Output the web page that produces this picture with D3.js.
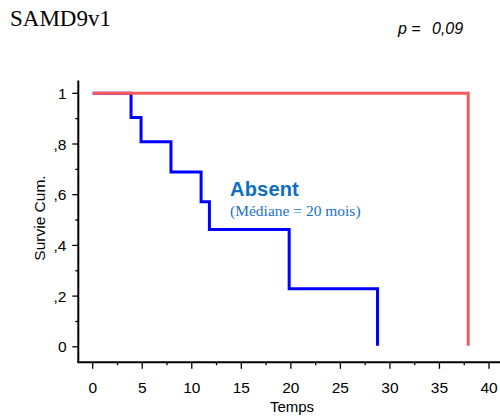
<!DOCTYPE html>
<html>
<head>
<meta charset="utf-8">
<script src="https://cdn.jsdelivr.net/npm/d3@7"></script>
<style>
  body { margin: 0; background: #fff; }
  svg { display: block; }
</style>
</head>
<body>
<div id="chart"></div>
<script>
"use strict";

// survival curve, "Absent" group
const absentTimes = [0, 3.87, 4.88, 7.9, 10.94, 11.78, 19.83, 28.75];
const absentSurv = [1, 0.905, 0.809, 0.69, 0.572, 0.463, 0.229, 0.004];
// other group, no event until the end
const presentTimes = [0, 37.9];
const presentSurv = [1, 0.004];

const xTicks = [0, 5, 10, 15, 20, 25, 30, 35, 40];
const xMinor = [2.5, 7.5, 12.5, 17.5, 22.5, 27.5, 32.5, 37.5];
const yTicks = [0, 0.2, 0.4, 0.6, 0.8, 1];
const yTickLabels = ["0", ",2", ",4", ",6", ",8", "1"];
const yMinor = [0.1, 0.3, 0.5, 0.7, 0.9];

const W = 500, H = 416;

let svg = d3.select("#chart")
    .append("svg")
    .attr("width", W)
    .attr("height", H);

let x = d3.scaleLinear().domain([0, 40]).range([92.7, 489]);
let y = d3.scaleLinear().domain([0, 1]).range([346.8, 93.3]);

const axisX = 78.3, axisY = 362.3;

// axis lines
svg.append("line")
    .attr("x1", axisX).attr("x2", axisX)
    .attr("y1", 80.5).attr("y2", axisY)
    .attr("stroke", "#000").attr("stroke-width", 2);
svg.append("line")
    .attr("x1", axisX - 1).attr("x2", W)
    .attr("y1", axisY).attr("y2", axisY)
    .attr("stroke", "#000").attr("stroke-width", 2);

// y ticks
svg.selectAll(".ytick").data(yTicks).enter()
    .append("line")
    .attr("x1", axisX - 6).attr("x2", axisX)
    .attr("y1", d => y(d)).attr("y2", d => y(d))
    .attr("stroke", "#000").attr("stroke-width", 1.3);
svg.selectAll(".yminor").data(yMinor).enter()
    .append("line")
    .attr("x1", axisX - 3).attr("x2", axisX)
    .attr("y1", d => y(d)).attr("y2", d => y(d))
    .attr("stroke", "#000").attr("stroke-width", 1.3);
svg.selectAll(".ylab").data(yTicks).enter()
    .append("text")
    .attr("x", 66.5)
    .attr("y", d => y(d) + 5.5)
    .attr("text-anchor", "end")
    .style("font-family", "Liberation Sans, Arial, sans-serif")
    .style("font-size", "15.5px")
    .text((d, i) => yTickLabels[i]);

// x ticks
svg.selectAll(".xtick").data(xTicks).enter()
    .append("line")
    .attr("x1", d => x(d)).attr("x2", d => x(d))
    .attr("y1", axisY).attr("y2", axisY + 6.5)
    .attr("stroke", "#000").attr("stroke-width", 1.3);
svg.selectAll(".xminor").data(xMinor).enter()
    .append("line")
    .attr("x1", d => x(d)).attr("x2", d => x(d))
    .attr("y1", axisY).attr("y2", axisY + 3)
    .attr("stroke", "#000").attr("stroke-width", 1.3);
svg.selectAll(".xlab").data(xTicks).enter()
    .append("text")
    .attr("x", d => x(d))
    .attr("y", 392.5)
    .attr("text-anchor", "middle")
    .style("font-family", "Liberation Sans, Arial, sans-serif")
    .style("font-size", "15.5px")
    .text(d => d);

// axis titles
svg.append("text")
    .attr("x", 292).attr("y", 411.5)
    .attr("text-anchor", "middle")
    .style("font-family", "Liberation Sans, Arial, sans-serif")
    .style("font-size", "15px")
    .text("Temps");
svg.append("text")
    .attr("transform", "translate(44.5,218) rotate(-90)")
    .attr("text-anchor", "middle")
    .style("font-family", "Liberation Sans, Arial, sans-serif")
    .style("font-size", "15.5px")
    .text("Survie Cum.");

// curves
let line = d3.line()
    .x(d => x(d[0]))
    .y(d => y(d[1]))
    .curve(d3.curveStepAfter);

svg.append("path")
    .datum(d3.zip(absentTimes, absentSurv))
    .attr("d", line)
    .attr("fill", "none")
    .attr("stroke", "#0000ff")
    .attr("stroke-width", 3);

svg.append("path")
    .datum(d3.zip(presentTimes, presentSurv))
    .attr("d", line)
    .attr("fill", "none")
    .attr("stroke", "#f75a5a")
    .attr("stroke-width", 3);

// annotation
svg.append("text")
    .attr("x", 230).attr("y", 196)
    .style("font-family", "Liberation Sans, Arial, sans-serif")
    .style("font-size", "20px")
    .style("font-weight", "bold")
    .style("letter-spacing", "0.2px")
    .attr("fill", "#0a6fc2")
    .text("Absent");
svg.append("text")
    .attr("x", 230).attr("y", 216)
    .style("font-family", "Liberation Serif, Times New Roman, serif")
    .style("font-size", "15.5px")
    .attr("fill", "#1a72c6")
    .text("(Médiane = 20 mois)");

// title and p value
svg.append("text")
    .attr("x", 10).attr("y", 26)
    .style("font-family", "Liberation Serif, Times New Roman, serif")
    .style("font-size", "23px")
    .text("SAMD9v1");
svg.append("text")
    .attr("x", 398).attr("y", 34)
    .style("font-family", "Liberation Sans, Arial, sans-serif")
    .style("font-size", "16px")
    .style("font-style", "italic")
    .text("p =");
svg.append("text")
    .attr("x", 432).attr("y", 34)
    .style("font-family", "Liberation Sans, Arial, sans-serif")
    .style("font-size", "16px")
    .style("font-style", "italic")
    .text("0,09");
</script>
</body>
</html>
